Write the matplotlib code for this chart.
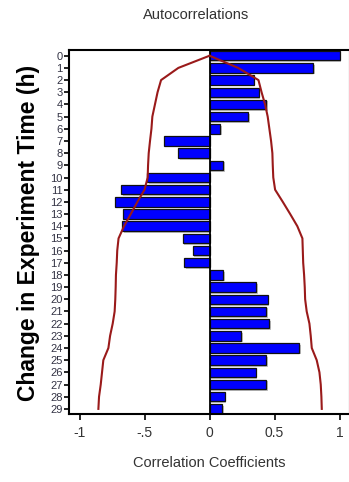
import matplotlib
matplotlib.use("Agg")
import matplotlib.pyplot as plt
import matplotlib.patheffects as pe
from matplotlib import font_manager

plt.rcParams['font.family'] = ['Liberation Sans', 'DejaVu Sans']

# Autocorrelation coefficients by lag (hours)
lags = list(range(30))
acf = [1.00, 0.795, 0.34, 0.377, 0.433, 0.295, 0.082, -0.35, -0.24, 0.105,
       -0.48, -0.68, -0.725, -0.667, -0.674, -0.208, -0.131, -0.197, 0.105, 0.36,
       0.446, 0.436, 0.46, 0.244, 0.69, 0.436, 0.354, 0.436, 0.115, 0.097]

# Confidence limits
lower = [0.0, -0.24, -0.373, -0.40, -0.42, -0.44, -0.447, -0.458, -0.468, -0.473,
         -0.476, -0.50, -0.555, -0.606, -0.658, -0.70, -0.71, -0.714, -0.72, -0.722,
         -0.725, -0.73, -0.745, -0.765, -0.778, -0.817, -0.827, -0.837, -0.85, -0.855]
upper = [0.0, 0.22, 0.376, 0.40, 0.427, 0.447, 0.46, 0.473, 0.483, 0.486,
         0.49, 0.504, 0.563, 0.62, 0.675, 0.714, 0.717, 0.72, 0.727, 0.732,
         0.735, 0.747, 0.768, 0.778, 0.786, 0.824, 0.845, 0.855, 0.86, 0.863]

xticks = [-1, -0.5, 0, 0.5, 1]
xticklabels = ['-1', '-.5', '0', '0.5', '1']

# narrow face for the crowded lag labels, if available
names = {f.name for f in font_manager.fontManager.ttflist}
lag_font = ['Liberation Sans Narrow'] if 'Liberation Sans Narrow' in names else ['Liberation Sans']

W, H = 349, 482
fig = plt.figure(figsize=(W / 100, H / 100), dpi=100)
ax = fig.add_axes([69 / W, 1 - 414 / H, 281 / W, 364 / H])

bars = ax.barh(lags, acf, height=0.78, color='#0000FF', edgecolor='#111111',
               linewidth=0.9, zorder=2)
for b in bars:
    b.set_path_effects([pe.SimplePatchShadow(offset=(1.2, -1.2), shadow_rgbFace='#999999',
                                             alpha=0.6), pe.Normal()])
ax.axvline(0, color='black', linewidth=1.3, zorder=3)
ax.plot(lower, lags, color='#9A1A1A', linewidth=1.5, zorder=4)
ax.plot(upper, lags, color='#9A1A1A', linewidth=1.5, zorder=4)

ax.set_xlim(-1.081, 1.08)
ax.set_ylim(29.42, -0.47)

ax.set_yticks(lags)
ax.set_yticklabels([str(l) for l in lags], fontsize=8, color='#333344', family=lag_font)
ax.set_xticks(xticks)
ax.set_xticklabels(xticklabels, fontsize=10, color='#333333')
ax.tick_params(axis='y', length=3.5, width=1.2, pad=1)
ax.tick_params(axis='x', length=4.5, width=1.2, pad=4)

for s in ax.spines.values():
    s.set_linewidth(1.5)

ax.set_xlabel('Correlation Coefficients', fontsize=10.5, color='#333333', labelpad=12)
fig.text(196 / W, 1 - 15 / H, 'Autocorrelations', fontsize=10.5, color='#333333',
         ha='center', va='center')
fig.text(29 / W, 1 - 233 / H, 'Change in Experiment Time (h)', fontsize=16.5,
         fontweight='bold', rotation=90, ha='center', va='center', color='black')

fig.savefig('out.png', dpi=100)
